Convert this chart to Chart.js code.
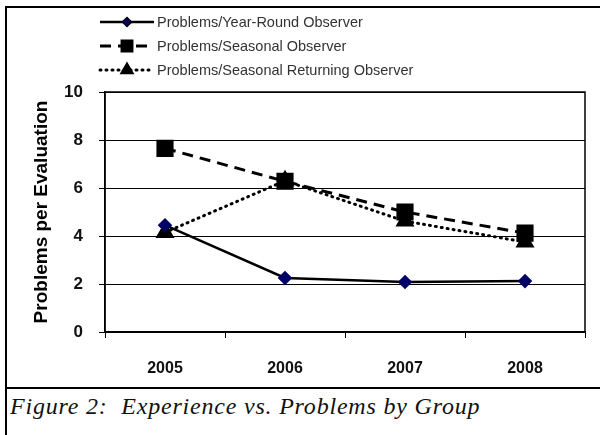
<!DOCTYPE html>
<html>
<head>
<meta charset="utf-8">
<script src="https://cdn.jsdelivr.net/npm/chart.js@4.4.0/dist/chart.umd.min.js"></script>
<style>
body { margin: 0; background: #fff; width: 600px; height: 435px; overflow: hidden; position: relative; }
#frame { position: absolute; left: 5px; top: 6px; width: 595px; height: 429px; border-left: 2px solid #000; border-top: 2px solid #000; }
#box { position: absolute; left: 1px; top: 0px; width: 594px; height: 379px; }
#sep { position: absolute; left: 0; top: 379px; width: 595px; height: 0; border-top: 2px solid #000; }
#caption { position: absolute; left: 3px; top: 385px; font-family: "Liberation Serif", "Times New Roman", serif; font-style: italic; font-size: 24px; letter-spacing: 0.8px; color: #111; white-space: pre; }
</style>
</head>
<body>
<div id="frame">
  <div id="box"><canvas id="graf"></canvas></div>
  <div id="sep"></div>
  <div id="caption">Figure 2:  Experience vs. Problems by Group</div>
</div>
<script>
const anos = ['2005', '2006', '2007', '2008']
const anoInteiro = [4.45, 2.25, 2.08, 2.12]
const sazonal = [7.65, 6.28, 5.0, 4.12]
const sazonalRetorno = [4.15, 6.3, 4.62, 3.75]
const nomes = ['Problems/Year-Round Observer', 'Problems/Seasonal Observer', 'Problems/Seasonal Returning Observer']

// legenda desenhada a mao: linha + marcador, uma por linha
const legendaManual = {
    id: 'legendaManual',
    afterDraw(chart) {
        const ctx = chart.ctx
        const sets = chart.data.datasets
        ctx.save()
        for (let i = 0; i < sets.length; i++) {
            const ds = sets[i]
            const y = 14 + i * 24
            ctx.strokeStyle = ds.borderColor
            ctx.lineWidth = ds.borderWidth
            ctx.lineCap = ds.borderCapStyle || 'butt'
            ctx.setLineDash(ds.borderDash || [])
            ctx.beginPath()
            ctx.moveTo(92, y)
            ctx.lineTo(146, y)
            ctx.stroke()
            ctx.setLineDash([])
            Chart.helpers.drawPoint(ctx, {
                pointStyle: ds.pointStyle,
                radius: ds.pointRadius * 0.7,
                borderWidth: 1
            }, 119, y)
            ctx.fillStyle = ds.pointBackgroundColor
            ctx.strokeStyle = ds.pointBorderColor
            ctx.fill()
            ctx.font = '14.5px "Liberation Sans", Arial, sans-serif'
            ctx.fillStyle = '#333'
            ctx.textBaseline = 'middle'
            ctx.fillText(ds.label, 149, y + 1)
        }
        ctx.restore()
    }
}

// caixa em volta da area do grafico
const caixa = {
    id: 'caixa',
    afterDatasetsDraw(chart) {
        const a = chart.chartArea
        const ctx = chart.ctx
        ctx.save()
        ctx.strokeStyle = '#000'
        ctx.lineWidth = 1.5
        ctx.strokeRect(a.left, a.top, a.right - a.left, a.bottom - a.top)
        ctx.restore()
    }
}

const ctx = document.getElementById('graf').getContext('2d')
const chart = new Chart(ctx, {
    type: 'line',
    data: {
        labels: anos,
        datasets: [{
                label: nomes[0],
                data: anoInteiro,
                borderColor: '#000',
                borderWidth: 2.5,
                pointStyle: 'rectRot',
                pointRadius: 5.5,
                pointBackgroundColor: '#000066',
                pointBorderColor: '#000066',
                fill: false,
                tension: 0
            }, {
                label: nomes[1],
                data: sazonal,
                borderColor: '#000',
                borderWidth: 3,
                borderDash: [11, 7],
                pointStyle: 'rect',
                pointRadius: 10,
                pointBackgroundColor: '#000',
                pointBorderColor: '#000',
                fill: false,
                tension: 0
            }, {
                label: nomes[2],
                data: sazonalRetorno,
                borderColor: '#000',
                borderWidth: 3,
                borderDash: [1, 5],
                borderCapStyle: 'round',
                pointStyle: 'triangle',
                pointRadius: 8,
                pointBackgroundColor: '#000',
                pointBorderColor: '#000',
                fill: false,
                tension: 0
            }]
    },
    options: {
        responsive: true,
        maintainAspectRatio: false,
        animation: false,
        layout: { padding: { top: 84, right: 17, left: 0, bottom: 0 } },
        plugins: {
            legend: { display: false },
            tooltip: { enabled: false }
        },
        scales: {
            x: {
                offset: true,
                afterFit(axis) { axis.height = 55 },
                grid: {
                    offset: true,
                    drawOnChartArea: false,
                    drawTicks: true,
                    tickLength: 6,
                    color: '#000'
                },
                border: { color: '#000', width: 1.5 },
                ticks: {
                    padding: 21,
                    color: '#111',
                    font: { family: '"Liberation Sans", Arial, sans-serif', size: 16, weight: 'bold' }
                }
            },
            y: {
                min: 0,
                max: 10,
                afterFit(axis) { axis.width = 97 },
                grid: {
                    color: '#000',
                    lineWidth: 1,
                    tickLength: 6
                },
                border: { color: '#000', width: 1.5 },
                ticks: {
                    stepSize: 2,
                    padding: 16,
                    color: '#111',
                    font: { family: '"Liberation Sans", Arial, sans-serif', size: 17, weight: 'bold' }
                },
                title: {
                    display: true,
                    text: 'Problems per Evaluation',
                    color: '#000',
                    padding: { top: 22, bottom: 0 },
                    font: { family: '"Liberation Sans", Arial, sans-serif', size: 19, weight: 'bold' }
                }
            }
        }
    },
    plugins: [legendaManual, caixa]
})
</script>
</body>
</html>
